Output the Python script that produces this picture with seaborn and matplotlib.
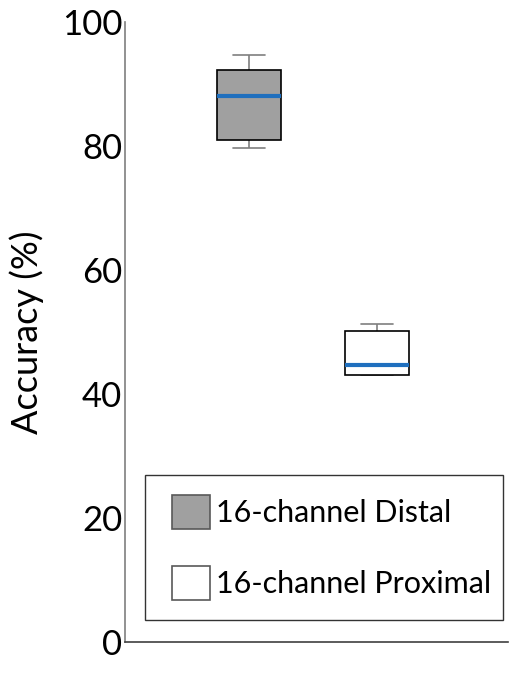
import seaborn as sns
import matplotlib.pyplot as plt
import pandas as pd
from matplotlib.patches import Patch, Rectangle
from matplotlib.legend_handler import HandlerPatch

# values (min, q1, median, q3, max)
groups = ["16-channel Distal", "16-channel Proximal"]
distal = [79.7, 81.0, 88.0, 92.3, 94.7]
proximal = [43.1, 43.1, 44.7, 50.2, 51.3]
box_colors = ["#A0A0A0", "#FFFFFF"]
yticks = [0, 20, 40, 60, 80, 100]

df = pd.DataFrame({
    "group": [groups[0]] * len(distal) + [groups[1]] * len(proximal),
    "acc": distal + proximal,
})

sns.set_style("white")
plt.rcParams["font.family"] = ["Lato", "DejaVu Sans"]
plt.rcParams["text.color"] = "black"
plt.rcParams["ytick.color"] = "black"
plt.rcParams["axes.labelcolor"] = "black"

fig = plt.figure(figsize=(5.09, 6.95), dpi=100)
ax = fig.add_axes([0.2456, 0.0767, 0.752, 0.8916])

sns.boxplot(data=df, x="group", y="acc", hue="group", palette=box_colors,
            width=0.5, whis=3, legend=False, ax=ax,
            boxprops=dict(edgecolor="black", linewidth=1.2, zorder=3),
            medianprops=dict(color="#1F6FBE", linewidth=3, zorder=4),
            whiskerprops=dict(color="#7F7F7F", linewidth=1.2, zorder=2),
            capprops=dict(color="#7F7F7F", linewidth=1.2, zorder=2))

ax.set_xlim(-0.969, 2.02)
ax.set_ylim(0, 100)
ax.set_yticks(yticks)
ax.set_xticks([])
ax.set_xlabel("")
ax.set_ylabel("Accuracy (%)", fontsize=26, labelpad=13)
ax.tick_params(axis="y", labelsize=25, length=0, pad=2)
sns.despine(ax=ax, top=True, right=True)
ax.spines["left"].set_color("#7F7F7F")
ax.spines["left"].set_linewidth(1.2)
ax.spines["bottom"].set_color("#404040")
ax.spines["bottom"].set_linewidth(1.2)


# legend swatch sits at the right end of a slightly wider handle box
def swatch(legend, orig_handle, xdescent, ydescent, width, height, fontsize):
    w = 1.25 * fontsize
    return Rectangle((width - w - xdescent, -ydescent), w, height)


handles = [Patch(facecolor=c, edgecolor="#595959", linewidth=1.2) for c in box_colors]
leg = ax.legend(handles, groups, loc="lower left",
                bbox_to_anchor=(0.052, 0.035, 0.935, 0.231), mode="expand",
                borderaxespad=0, fontsize=22, frameon=True, fancybox=False,
                edgecolor="black", handlelength=1.48, handleheight=1.35,
                handletextpad=0.2, labelspacing=1.2, borderpad=0.65,
                handler_map={Patch: HandlerPatch(patch_func=swatch)})
leg.get_frame().set_linewidth(1.0)

fig.savefig("out.png", dpi=100)
